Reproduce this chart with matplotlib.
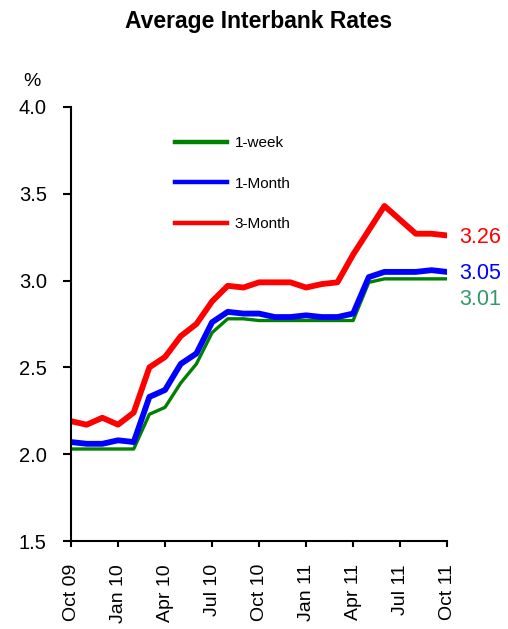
import matplotlib
matplotlib.use("Agg")
import matplotlib.pyplot as plt

plt.rcParams['font.family'] = ['Liberation Sans', 'DejaVu Sans']

# monthly averages, Oct 2009 .. Oct 2011
months = list(range(25))
week1 = [2.03, 2.03, 2.03, 2.03, 2.03, 2.23, 2.27, 2.41, 2.52, 2.70, 2.78, 2.78, 2.77,
         2.77, 2.77, 2.77, 2.77, 2.77, 2.77, 2.99, 3.01, 3.01, 3.01, 3.01, 3.01]
month1 = [2.07, 2.06, 2.06, 2.08, 2.07, 2.33, 2.37, 2.52, 2.58, 2.76, 2.82, 2.81, 2.81,
          2.79, 2.79, 2.80, 2.79, 2.79, 2.81, 3.02, 3.05, 3.05, 3.05, 3.06, 3.05]
month3 = [2.19, 2.17, 2.21, 2.17, 2.24, 2.50, 2.56, 2.68, 2.75, 2.88, 2.97, 2.96, 2.99,
          2.99, 2.99, 2.96, 2.98, 2.99, 3.15, 3.29, 3.43, 3.35, 3.27, 3.27, 3.26]
tick_pos = [0, 3, 6, 9, 12, 15, 18, 21, 24]
tick_labels = ["Oct 09", "Jan 10", "Apr 10", "Jul 10", "Oct 10",
               "Jan 11", "Apr 11", "Jul 11", "Oct 11"]

fig = plt.figure(figsize=(5.08, 6.29), dpi=100)
ax = fig.add_axes([0.1398, 0.1399, 0.8802 - 0.1398, 0.8299 - 0.1399])

ax.plot(months, week1, color="#008000", linewidth=2.4, label="1-week")
ax.plot(months, month1, color="#0000FF", linewidth=4.2, label="1-Month")
ax.plot(months, month3, color="#FF0000", linewidth=4.2, label="3-Month")

ax.set_xlim(0, 24)
ax.set_ylim(1.5, 4.0)
ax.set_yticks([1.5, 2.0, 2.5, 3.0, 3.5, 4.0])
ax.set_yticklabels(["1.5", "2.0", "2.5", "3.0", "3.5", "4.0"])
ax.set_xticks(tick_pos)
ax.set_xticklabels(tick_labels, rotation=90)

for s in ["top", "right"]:
    ax.spines[s].set_visible(False)
for s in ["left", "bottom"]:
    ax.spines[s].set_linewidth(1.5)
    ax.spines[s].set_clip_on(False)
ax.tick_params(axis="y", direction="out", length=5.5, width=1.5, labelsize=14.5, pad=12)
ax.tick_params(axis="x", direction="out", length=4.5, width=1.5, labelsize=14, pad=12)

leg = ax.legend(loc="upper left", bbox_to_anchor=(0.24, 0.965), frameon=False,
                fontsize=11, handlelength=3.4, labelspacing=1.75, handletextpad=0.5)
for h in leg.get_lines():
    h.set_linewidth(3.2)

ax.text(24.8, month3[-1] - 0.01, "3.26", color="#FF0000", fontsize=15.5, va="center", clip_on=False)
ax.text(24.8, month1[-1] - 0.01, "3.05", color="#0000FF", fontsize=15.5, va="center", clip_on=False)
ax.text(24.8, week1[-1] - 0.12, "3.01", color="#339966", fontsize=15.5, va="center", clip_on=False)

fig.text(0.063, 0.87, "%", fontsize=14, ha="center", va="center")
fig.text(0.508, 0.966, "Average Interbank Rates", fontsize=16.5, fontweight="bold",
         ha="center", va="center")

fig.savefig("out.png", dpi=100)
